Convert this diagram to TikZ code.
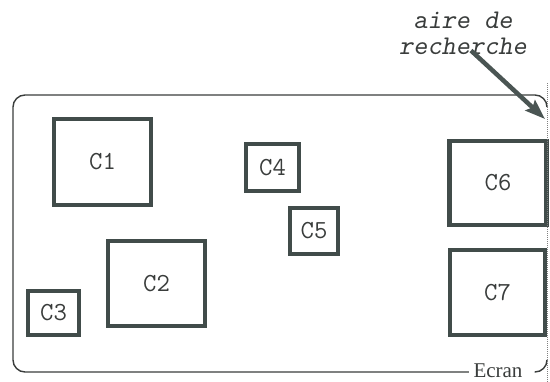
\documentclass[tikz,border=0pt]{standalone}
\usepackage{fontspec}
\newfontfamily\ecranfont{Liberation Serif}
\usetikzlibrary{arrows.meta}
\definecolor{boxcol}{HTML}{414C4A}
\definecolor{inkcol}{HTML}{3A3D3C}
\definecolor{arrowcol}{HTML}{4A5553}
\tikzset{
  cbox/.style={draw=boxcol, line width=4.5pt, inner sep=0pt, text=inkcol,
    font=\ttfamily\fontsize{26}{28}\selectfont},
  frame/.style={draw=inkcol, line width=1.4pt},
  bigarrow/.style={draw=arrowcol, line width=4.5pt, -{Stealth[length=20pt,width=14pt,inset=3pt]}}
}
\begin{document}
\begin{tikzpicture}[x=1pt,y=-1pt]
\useasboundingbox (0,0) rectangle (550,381);
% boxes
\node[cbox, minimum width=97pt, minimum height=86pt] (c1) at (102.5,162) {C1};
\node[cbox, minimum width=97pt, minimum height=85pt] (c2) at (156.5,283.5) {C2};
\node[cbox, minimum width=51pt, minimum height=44pt] (c3) at (53.5,313) {C3};
\node[cbox, minimum width=53pt, minimum height=47pt] (c4) at (272.5,167.5) {C4};
\node[cbox, minimum width=48pt, minimum height=46pt] (c5) at (314,231) {C5};
\node[cbox, minimum width=97pt, minimum height=84pt] (c6) at (498,183) {C6};
\node[cbox, minimum width=95pt, minimum height=85pt] (c7) at (497.5,292.5) {C7};
% frame
\coordinate (bl) at (13,372);
\coordinate (tr) at (547,95);
\node[text=inkcol, inner sep=4.5pt, font=\ecranfont\fontsize{21}{23}\selectfont, anchor=base] (ecran) at (498,377) {Ecran};
\draw[frame, rounded corners=12pt] (ecran.west |- bl) -- (bl) -- (bl |- tr) -- (tr) -- ++(0,12);
\draw[frame, rounded corners=12pt] ([xshift=7.5pt]ecran.east |- bl) -- (tr |- bl) -- ++(0,-12);
\draw[gray, line width=1pt, densely dotted] ([yshift=12pt]tr) -- ([yshift=-12pt]tr |- bl);
% label and arrow
\node[text=inkcol, align=center, inner sep=0pt, font=\ttfamily\slshape\fontsize{27}{26}\selectfont] (aire) at (463,33) {aire de\\recherche};
\coordinate (tip) at (545,119);
\draw[bigarrow] ([xshift=8pt,yshift=4pt]aire.south) -- (tip);
\end{tikzpicture}
\end{document}
